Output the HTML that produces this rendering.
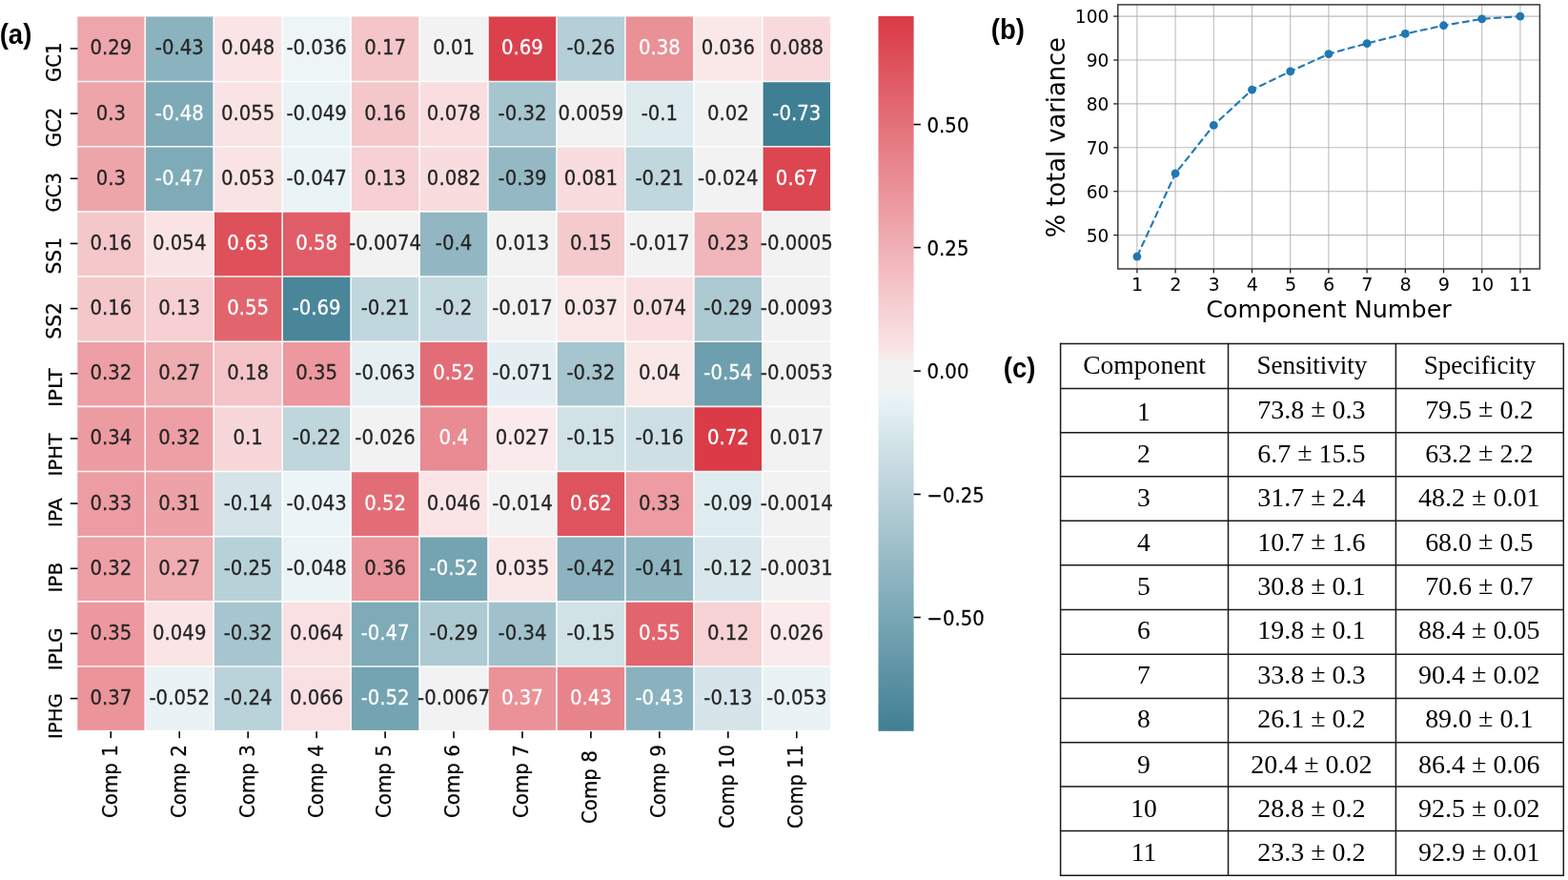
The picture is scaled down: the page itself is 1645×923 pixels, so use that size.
<!DOCTYPE html>
<html lang="en"><head><meta charset="utf-8"><title>PCA loadings, explained variance and classification table</title>
<style>
html,body{margin:0;padding:0;background:#fff;}
body{width:1645px;height:923px;overflow:hidden;}
svg{display:block;}
text{font-family:"DejaVu Sans","Liberation Sans",sans-serif;}
.ann{font-size:21.40px;text-anchor:middle;stroke-width:0.3px;}
.tk{font-size:21.40px;fill:#000;stroke:#000;stroke-width:0.25px;}
.w{fill:#fff;stroke:#fff;}
.d{fill:#262626;stroke:#262626;}
.lab{font-family:"Liberation Sans","DejaVu Sans",sans-serif;font-weight:bold;font-size:28.8px;fill:#000;}
.tb{font-family:"Liberation Serif","DejaVu Serif",serif;font-size:27.6px;fill:#000;text-anchor:middle;}
.bt{font-size:18.6px;fill:#000;}
.bl{font-size:25.4px;fill:#000;}
</style></head><body>
<svg width="1645" height="923" viewBox="0 0 1645 923" role="img" aria-label="PCA figure">
<rect x="0" y="0" width="1645" height="923" fill="#ffffff"/>
<g>
<rect x="81.30" y="17.45" width="71.25" height="68.37" fill="#eea6ac"/>
<rect x="152.25" y="17.45" width="72.25" height="68.37" fill="#8bb3bf"/>
<rect x="224.20" y="17.45" width="72.25" height="68.37" fill="#fae4e6"/>
<rect x="296.15" y="17.45" width="72.25" height="68.37" fill="#edf5f7"/>
<rect x="368.10" y="17.45" width="72.25" height="68.37" fill="#f4c6c9"/>
<rect x="440.05" y="17.45" width="72.25" height="68.37" fill="#f2f2f2"/>
<rect x="512.00" y="17.45" width="72.25" height="68.37" fill="#db414d"/>
<rect x="583.95" y="17.45" width="72.25" height="68.37" fill="#b4cfd7"/>
<rect x="655.90" y="17.45" width="72.25" height="68.37" fill="#ea9097"/>
<rect x="727.85" y="17.45" width="72.25" height="68.37" fill="#fae7e8"/>
<rect x="799.80" y="17.45" width="71.20" height="68.37" fill="#f8dadc"/>
<rect x="81.30" y="85.52" width="71.25" height="68.47" fill="#eea5aa"/>
<rect x="152.25" y="85.52" width="72.25" height="68.47" fill="#7eaab7"/>
<rect x="224.20" y="85.52" width="72.25" height="68.47" fill="#fae3e4"/>
<rect x="296.15" y="85.52" width="72.25" height="68.47" fill="#eaf3f6"/>
<rect x="368.10" y="85.52" width="72.25" height="68.47" fill="#f4c7cb"/>
<rect x="440.05" y="85.52" width="72.25" height="68.47" fill="#f9dddf"/>
<rect x="512.00" y="85.52" width="72.25" height="68.47" fill="#a6c5ce"/>
<rect x="583.95" y="85.52" width="72.25" height="68.47" fill="#f2f2f2"/>
<rect x="655.90" y="85.52" width="72.25" height="68.47" fill="#ddeaee"/>
<rect x="727.85" y="85.52" width="72.25" height="68.47" fill="#f2f2f2"/>
<rect x="799.80" y="85.52" width="71.20" height="68.47" fill="#3f7f93"/>
<rect x="81.30" y="153.69" width="71.25" height="68.47" fill="#eea5aa"/>
<rect x="152.25" y="153.69" width="72.25" height="68.47" fill="#7fabb8"/>
<rect x="224.20" y="153.69" width="72.25" height="68.47" fill="#fae3e4"/>
<rect x="296.15" y="153.69" width="72.25" height="68.47" fill="#eaf3f6"/>
<rect x="368.10" y="153.69" width="72.25" height="68.47" fill="#f6d0d3"/>
<rect x="440.05" y="153.69" width="72.25" height="68.47" fill="#f8dcde"/>
<rect x="512.00" y="153.69" width="72.25" height="68.47" fill="#94b9c4"/>
<rect x="583.95" y="153.69" width="72.25" height="68.47" fill="#f8dcde"/>
<rect x="655.90" y="153.69" width="72.25" height="68.47" fill="#c1d7de"/>
<rect x="727.85" y="153.69" width="72.25" height="68.47" fill="#f2f2f2"/>
<rect x="799.80" y="153.69" width="71.20" height="68.47" fill="#dc4651"/>
<rect x="81.30" y="221.86" width="71.25" height="68.47" fill="#f4c7cb"/>
<rect x="152.25" y="221.86" width="72.25" height="68.47" fill="#fae3e4"/>
<rect x="224.20" y="221.86" width="72.25" height="68.47" fill="#de505a"/>
<rect x="296.15" y="221.86" width="72.25" height="68.47" fill="#e05d67"/>
<rect x="368.10" y="221.86" width="72.25" height="68.47" fill="#f2f2f2"/>
<rect x="440.05" y="221.86" width="72.25" height="68.47" fill="#92b7c3"/>
<rect x="512.00" y="221.86" width="72.25" height="68.47" fill="#f2f2f2"/>
<rect x="583.95" y="221.86" width="72.25" height="68.47" fill="#f5cacd"/>
<rect x="655.90" y="221.86" width="72.25" height="68.47" fill="#f2f2f2"/>
<rect x="727.85" y="221.86" width="72.25" height="68.47" fill="#f1b6ba"/>
<rect x="799.80" y="221.86" width="71.20" height="68.47" fill="#f2f2f2"/>
<rect x="81.30" y="290.03" width="71.25" height="68.47" fill="#f4c7cb"/>
<rect x="152.25" y="290.03" width="72.25" height="68.47" fill="#f6d0d3"/>
<rect x="224.20" y="290.03" width="72.25" height="68.47" fill="#e2656e"/>
<rect x="296.15" y="290.03" width="72.25" height="68.47" fill="#498699"/>
<rect x="368.10" y="290.03" width="72.25" height="68.47" fill="#c1d7de"/>
<rect x="440.05" y="290.03" width="72.25" height="68.47" fill="#c4d9e0"/>
<rect x="512.00" y="290.03" width="72.25" height="68.47" fill="#f2f2f2"/>
<rect x="583.95" y="290.03" width="72.25" height="68.47" fill="#fae7e8"/>
<rect x="655.90" y="290.03" width="72.25" height="68.47" fill="#f9dfe1"/>
<rect x="727.85" y="290.03" width="72.25" height="68.47" fill="#adcad2"/>
<rect x="799.80" y="290.03" width="71.20" height="68.47" fill="#f2f2f2"/>
<rect x="81.30" y="358.20" width="71.25" height="68.47" fill="#ed9fa5"/>
<rect x="152.25" y="358.20" width="72.25" height="68.47" fill="#efacb1"/>
<rect x="224.20" y="358.20" width="72.25" height="68.47" fill="#f4c3c7"/>
<rect x="296.15" y="358.20" width="72.25" height="68.47" fill="#ec989e"/>
<rect x="368.10" y="358.20" width="72.25" height="68.47" fill="#e6f0f3"/>
<rect x="440.05" y="358.20" width="72.25" height="68.47" fill="#e36d76"/>
<rect x="512.00" y="358.20" width="72.25" height="68.47" fill="#e5eff3"/>
<rect x="583.95" y="358.20" width="72.25" height="68.47" fill="#a6c5ce"/>
<rect x="655.90" y="358.20" width="72.25" height="68.47" fill="#fae7e8"/>
<rect x="727.85" y="358.20" width="72.25" height="68.47" fill="#6e9fae"/>
<rect x="799.80" y="358.20" width="71.20" height="68.47" fill="#f2f2f2"/>
<rect x="81.30" y="426.37" width="71.25" height="68.47" fill="#ec9ba1"/>
<rect x="152.25" y="426.37" width="72.25" height="68.47" fill="#ed9fa5"/>
<rect x="224.20" y="426.37" width="72.25" height="68.47" fill="#f7d7d9"/>
<rect x="296.15" y="426.37" width="72.25" height="68.47" fill="#bfd6dd"/>
<rect x="368.10" y="426.37" width="72.25" height="68.47" fill="#f2f2f2"/>
<rect x="440.05" y="426.37" width="72.25" height="68.47" fill="#e98b92"/>
<rect x="512.00" y="426.37" width="72.25" height="68.47" fill="#fbeaeb"/>
<rect x="583.95" y="426.37" width="72.25" height="68.47" fill="#d1e2e7"/>
<rect x="655.90" y="426.37" width="72.25" height="68.47" fill="#cee0e5"/>
<rect x="727.85" y="426.37" width="72.25" height="68.47" fill="#da3b46"/>
<rect x="799.80" y="426.37" width="71.20" height="68.47" fill="#f2f2f2"/>
<rect x="81.30" y="494.54" width="71.25" height="68.47" fill="#ec9ca2"/>
<rect x="152.25" y="494.54" width="72.25" height="68.47" fill="#eda2a8"/>
<rect x="224.20" y="494.54" width="72.25" height="68.47" fill="#d4e4e9"/>
<rect x="296.15" y="494.54" width="72.25" height="68.47" fill="#ecf4f7"/>
<rect x="368.10" y="494.54" width="72.25" height="68.47" fill="#e36d76"/>
<rect x="440.05" y="494.54" width="72.25" height="68.47" fill="#fae4e6"/>
<rect x="512.00" y="494.54" width="72.25" height="68.47" fill="#f2f2f2"/>
<rect x="583.95" y="494.54" width="72.25" height="68.47" fill="#de535d"/>
<rect x="655.90" y="494.54" width="72.25" height="68.47" fill="#ec9ca2"/>
<rect x="727.85" y="494.54" width="72.25" height="68.47" fill="#dfecef"/>
<rect x="799.80" y="494.54" width="71.20" height="68.47" fill="#f2f2f2"/>
<rect x="81.30" y="562.71" width="71.25" height="68.47" fill="#ed9fa5"/>
<rect x="152.25" y="562.71" width="72.25" height="68.47" fill="#efacb1"/>
<rect x="224.20" y="562.71" width="72.25" height="68.47" fill="#b7d1d8"/>
<rect x="296.15" y="562.71" width="72.25" height="68.47" fill="#eaf3f6"/>
<rect x="368.10" y="562.71" width="72.25" height="68.47" fill="#eb959c"/>
<rect x="440.05" y="562.71" width="72.25" height="68.47" fill="#74a3b1"/>
<rect x="512.00" y="562.71" width="72.25" height="68.47" fill="#fae7e8"/>
<rect x="583.95" y="562.71" width="72.25" height="68.47" fill="#8cb3bf"/>
<rect x="655.90" y="562.71" width="72.25" height="68.47" fill="#8fb5c1"/>
<rect x="727.85" y="562.71" width="72.25" height="68.47" fill="#d8e7eb"/>
<rect x="799.80" y="562.71" width="71.20" height="68.47" fill="#f2f2f2"/>
<rect x="81.30" y="630.88" width="71.25" height="68.47" fill="#ec989e"/>
<rect x="152.25" y="630.88" width="72.25" height="68.47" fill="#fae4e6"/>
<rect x="224.20" y="630.88" width="72.25" height="68.47" fill="#a6c5ce"/>
<rect x="296.15" y="630.88" width="72.25" height="68.47" fill="#f9e0e2"/>
<rect x="368.10" y="630.88" width="72.25" height="68.47" fill="#7fabb8"/>
<rect x="440.05" y="630.88" width="72.25" height="68.47" fill="#adcad2"/>
<rect x="512.00" y="630.88" width="72.25" height="68.47" fill="#a0c1cb"/>
<rect x="583.95" y="630.88" width="72.25" height="68.47" fill="#d1e2e7"/>
<rect x="655.90" y="630.88" width="72.25" height="68.47" fill="#e2656e"/>
<rect x="727.85" y="630.88" width="72.25" height="68.47" fill="#f6d2d4"/>
<rect x="799.80" y="630.88" width="71.20" height="68.47" fill="#fbeaeb"/>
<rect x="81.30" y="699.05" width="71.25" height="66.85" fill="#eb949a"/>
<rect x="152.25" y="699.05" width="72.25" height="66.85" fill="#e9f2f5"/>
<rect x="224.20" y="699.05" width="72.25" height="66.85" fill="#bad2da"/>
<rect x="296.15" y="699.05" width="72.25" height="66.85" fill="#f9e0e2"/>
<rect x="368.10" y="699.05" width="72.25" height="66.85" fill="#74a3b1"/>
<rect x="440.05" y="699.05" width="72.25" height="66.85" fill="#f2f2f2"/>
<rect x="512.00" y="699.05" width="72.25" height="66.85" fill="#ea9298"/>
<rect x="583.95" y="699.05" width="72.25" height="66.85" fill="#e8848b"/>
<rect x="655.90" y="699.05" width="72.25" height="66.85" fill="#89b2be"/>
<rect x="727.85" y="699.05" width="72.25" height="66.85" fill="#d5e5ea"/>
<rect x="799.80" y="699.05" width="71.20" height="66.85" fill="#e9f2f5"/>
</g>
<g stroke="#ffffff" stroke-width="1.6" stroke-opacity="0.92">
<line x1="152.25" y1="17.45" x2="152.25" y2="765.90"/>
<line x1="224.20" y1="17.45" x2="224.20" y2="765.90"/>
<line x1="296.15" y1="17.45" x2="296.15" y2="765.90"/>
<line x1="368.10" y1="17.45" x2="368.10" y2="765.90"/>
<line x1="440.05" y1="17.45" x2="440.05" y2="765.90"/>
<line x1="512.00" y1="17.45" x2="512.00" y2="765.90"/>
<line x1="583.95" y1="17.45" x2="583.95" y2="765.90"/>
<line x1="655.90" y1="17.45" x2="655.90" y2="765.90"/>
<line x1="727.85" y1="17.45" x2="727.85" y2="765.90"/>
<line x1="799.80" y1="17.45" x2="799.80" y2="765.90"/>
<line x1="81.30" y1="85.52" x2="871.00" y2="85.52"/>
<line x1="81.30" y1="153.69" x2="871.00" y2="153.69"/>
<line x1="81.30" y1="221.86" x2="871.00" y2="221.86"/>
<line x1="81.30" y1="290.03" x2="871.00" y2="290.03"/>
<line x1="81.30" y1="358.20" x2="871.00" y2="358.20"/>
<line x1="81.30" y1="426.37" x2="871.00" y2="426.37"/>
<line x1="81.30" y1="494.54" x2="871.00" y2="494.54"/>
<line x1="81.30" y1="562.71" x2="871.00" y2="562.71"/>
<line x1="81.30" y1="630.88" x2="871.00" y2="630.88"/>
<line x1="81.30" y1="699.05" x2="871.00" y2="699.05"/>
</g>
<text class="ann d" transform="translate(116.28,57.34) scale(0.9200,1.0000)">0.29</text>
<text class="ann d" transform="translate(188.23,57.34) scale(0.9200,1.0000)">-0.43</text>
<text class="ann d" transform="translate(260.18,57.34) scale(0.9200,1.0000)">0.048</text>
<text class="ann d" transform="translate(332.12,57.34) scale(0.9200,1.0000)">-0.036</text>
<text class="ann d" transform="translate(404.08,57.34) scale(0.9200,1.0000)">0.17</text>
<text class="ann d" transform="translate(476.03,57.34) scale(0.9200,1.0000)">0.01</text>
<text class="ann w" transform="translate(547.98,57.34) scale(0.9200,1.0000)">0.69</text>
<text class="ann d" transform="translate(619.92,57.34) scale(0.9200,1.0000)">-0.26</text>
<text class="ann w" transform="translate(691.88,57.34) scale(0.9200,1.0000)">0.38</text>
<text class="ann d" transform="translate(763.82,57.34) scale(0.9200,1.0000)">0.036</text>
<text class="ann d" transform="translate(835.77,57.34) scale(0.9200,1.0000)">0.088</text>
<text class="ann d" transform="translate(116.28,125.50) scale(0.9200,1.0000)">0.3</text>
<text class="ann w" transform="translate(188.23,125.50) scale(0.9200,1.0000)">-0.48</text>
<text class="ann d" transform="translate(260.18,125.50) scale(0.9200,1.0000)">0.055</text>
<text class="ann d" transform="translate(332.12,125.50) scale(0.9200,1.0000)">-0.049</text>
<text class="ann d" transform="translate(404.08,125.50) scale(0.9200,1.0000)">0.16</text>
<text class="ann d" transform="translate(476.03,125.50) scale(0.9200,1.0000)">0.078</text>
<text class="ann d" transform="translate(547.98,125.50) scale(0.9200,1.0000)">-0.32</text>
<text class="ann d" transform="translate(619.92,125.50) scale(0.9200,1.0000)">0.0059</text>
<text class="ann d" transform="translate(691.88,125.50) scale(0.9200,1.0000)">-0.1</text>
<text class="ann d" transform="translate(763.82,125.50) scale(0.9200,1.0000)">0.02</text>
<text class="ann w" transform="translate(835.77,125.50) scale(0.9200,1.0000)">-0.73</text>
<text class="ann d" transform="translate(116.28,193.68) scale(0.9200,1.0000)">0.3</text>
<text class="ann w" transform="translate(188.23,193.68) scale(0.9200,1.0000)">-0.47</text>
<text class="ann d" transform="translate(260.18,193.68) scale(0.9200,1.0000)">0.053</text>
<text class="ann d" transform="translate(332.12,193.68) scale(0.9200,1.0000)">-0.047</text>
<text class="ann d" transform="translate(404.08,193.68) scale(0.9200,1.0000)">0.13</text>
<text class="ann d" transform="translate(476.03,193.68) scale(0.9200,1.0000)">0.082</text>
<text class="ann d" transform="translate(547.98,193.68) scale(0.9200,1.0000)">-0.39</text>
<text class="ann d" transform="translate(619.92,193.68) scale(0.9200,1.0000)">0.081</text>
<text class="ann d" transform="translate(691.88,193.68) scale(0.9200,1.0000)">-0.21</text>
<text class="ann d" transform="translate(763.82,193.68) scale(0.9200,1.0000)">-0.024</text>
<text class="ann w" transform="translate(835.77,193.68) scale(0.9200,1.0000)">0.67</text>
<text class="ann d" transform="translate(116.28,261.84) scale(0.9200,1.0000)">0.16</text>
<text class="ann d" transform="translate(188.23,261.84) scale(0.9200,1.0000)">0.054</text>
<text class="ann w" transform="translate(260.18,261.84) scale(0.9200,1.0000)">0.63</text>
<text class="ann w" transform="translate(332.12,261.84) scale(0.9200,1.0000)">0.58</text>
<text class="ann d" transform="translate(404.08,261.84) scale(0.9200,1.0000)">-0.0074</text>
<text class="ann d" transform="translate(476.03,261.84) scale(0.9200,1.0000)">-0.4</text>
<text class="ann d" transform="translate(547.98,261.84) scale(0.9200,1.0000)">0.013</text>
<text class="ann d" transform="translate(619.92,261.84) scale(0.9200,1.0000)">0.15</text>
<text class="ann d" transform="translate(691.88,261.84) scale(0.9200,1.0000)">-0.017</text>
<text class="ann d" transform="translate(763.82,261.84) scale(0.9200,1.0000)">0.23</text>
<text class="ann d" transform="translate(835.77,261.84) scale(0.9200,1.0000)">-0.0005</text>
<text class="ann d" transform="translate(116.28,330.01) scale(0.9200,1.0000)">0.16</text>
<text class="ann d" transform="translate(188.23,330.01) scale(0.9200,1.0000)">0.13</text>
<text class="ann w" transform="translate(260.18,330.01) scale(0.9200,1.0000)">0.55</text>
<text class="ann w" transform="translate(332.12,330.01) scale(0.9200,1.0000)">-0.69</text>
<text class="ann d" transform="translate(404.08,330.01) scale(0.9200,1.0000)">-0.21</text>
<text class="ann d" transform="translate(476.03,330.01) scale(0.9200,1.0000)">-0.2</text>
<text class="ann d" transform="translate(547.98,330.01) scale(0.9200,1.0000)">-0.017</text>
<text class="ann d" transform="translate(619.92,330.01) scale(0.9200,1.0000)">0.037</text>
<text class="ann d" transform="translate(691.88,330.01) scale(0.9200,1.0000)">0.074</text>
<text class="ann d" transform="translate(763.82,330.01) scale(0.9200,1.0000)">-0.29</text>
<text class="ann d" transform="translate(835.77,330.01) scale(0.9200,1.0000)">-0.0093</text>
<text class="ann d" transform="translate(116.28,398.19) scale(0.9200,1.0000)">0.32</text>
<text class="ann d" transform="translate(188.23,398.19) scale(0.9200,1.0000)">0.27</text>
<text class="ann d" transform="translate(260.18,398.19) scale(0.9200,1.0000)">0.18</text>
<text class="ann d" transform="translate(332.12,398.19) scale(0.9200,1.0000)">0.35</text>
<text class="ann d" transform="translate(404.08,398.19) scale(0.9200,1.0000)">-0.063</text>
<text class="ann w" transform="translate(476.03,398.19) scale(0.9200,1.0000)">0.52</text>
<text class="ann d" transform="translate(547.98,398.19) scale(0.9200,1.0000)">-0.071</text>
<text class="ann d" transform="translate(619.92,398.19) scale(0.9200,1.0000)">-0.32</text>
<text class="ann d" transform="translate(691.88,398.19) scale(0.9200,1.0000)">0.04</text>
<text class="ann w" transform="translate(763.82,398.19) scale(0.9200,1.0000)">-0.54</text>
<text class="ann d" transform="translate(835.77,398.19) scale(0.9200,1.0000)">-0.0053</text>
<text class="ann d" transform="translate(116.28,466.36) scale(0.9200,1.0000)">0.34</text>
<text class="ann d" transform="translate(188.23,466.36) scale(0.9200,1.0000)">0.32</text>
<text class="ann d" transform="translate(260.18,466.36) scale(0.9200,1.0000)">0.1</text>
<text class="ann d" transform="translate(332.12,466.36) scale(0.9200,1.0000)">-0.22</text>
<text class="ann d" transform="translate(404.08,466.36) scale(0.9200,1.0000)">-0.026</text>
<text class="ann w" transform="translate(476.03,466.36) scale(0.9200,1.0000)">0.4</text>
<text class="ann d" transform="translate(547.98,466.36) scale(0.9200,1.0000)">0.027</text>
<text class="ann d" transform="translate(619.92,466.36) scale(0.9200,1.0000)">-0.15</text>
<text class="ann d" transform="translate(691.88,466.36) scale(0.9200,1.0000)">-0.16</text>
<text class="ann w" transform="translate(763.82,466.36) scale(0.9200,1.0000)">0.72</text>
<text class="ann d" transform="translate(835.77,466.36) scale(0.9200,1.0000)">0.017</text>
<text class="ann d" transform="translate(116.28,534.52) scale(0.9200,1.0000)">0.33</text>
<text class="ann d" transform="translate(188.23,534.52) scale(0.9200,1.0000)">0.31</text>
<text class="ann d" transform="translate(260.18,534.52) scale(0.9200,1.0000)">-0.14</text>
<text class="ann d" transform="translate(332.12,534.52) scale(0.9200,1.0000)">-0.043</text>
<text class="ann w" transform="translate(404.08,534.52) scale(0.9200,1.0000)">0.52</text>
<text class="ann d" transform="translate(476.03,534.52) scale(0.9200,1.0000)">0.046</text>
<text class="ann d" transform="translate(547.98,534.52) scale(0.9200,1.0000)">-0.014</text>
<text class="ann w" transform="translate(619.92,534.52) scale(0.9200,1.0000)">0.62</text>
<text class="ann d" transform="translate(691.88,534.52) scale(0.9200,1.0000)">0.33</text>
<text class="ann d" transform="translate(763.82,534.52) scale(0.9200,1.0000)">-0.09</text>
<text class="ann d" transform="translate(835.77,534.52) scale(0.9200,1.0000)">-0.0014</text>
<text class="ann d" transform="translate(116.28,602.70) scale(0.9200,1.0000)">0.32</text>
<text class="ann d" transform="translate(188.23,602.70) scale(0.9200,1.0000)">0.27</text>
<text class="ann d" transform="translate(260.18,602.70) scale(0.9200,1.0000)">-0.25</text>
<text class="ann d" transform="translate(332.12,602.70) scale(0.9200,1.0000)">-0.048</text>
<text class="ann d" transform="translate(404.08,602.70) scale(0.9200,1.0000)">0.36</text>
<text class="ann w" transform="translate(476.03,602.70) scale(0.9200,1.0000)">-0.52</text>
<text class="ann d" transform="translate(547.98,602.70) scale(0.9200,1.0000)">0.035</text>
<text class="ann d" transform="translate(619.92,602.70) scale(0.9200,1.0000)">-0.42</text>
<text class="ann d" transform="translate(691.88,602.70) scale(0.9200,1.0000)">-0.41</text>
<text class="ann d" transform="translate(763.82,602.70) scale(0.9200,1.0000)">-0.12</text>
<text class="ann d" transform="translate(835.77,602.70) scale(0.9200,1.0000)">-0.0031</text>
<text class="ann d" transform="translate(116.28,670.87) scale(0.9200,1.0000)">0.35</text>
<text class="ann d" transform="translate(188.23,670.87) scale(0.9200,1.0000)">0.049</text>
<text class="ann d" transform="translate(260.18,670.87) scale(0.9200,1.0000)">-0.32</text>
<text class="ann d" transform="translate(332.12,670.87) scale(0.9200,1.0000)">0.064</text>
<text class="ann w" transform="translate(404.08,670.87) scale(0.9200,1.0000)">-0.47</text>
<text class="ann d" transform="translate(476.03,670.87) scale(0.9200,1.0000)">-0.29</text>
<text class="ann d" transform="translate(547.98,670.87) scale(0.9200,1.0000)">-0.34</text>
<text class="ann d" transform="translate(619.92,670.87) scale(0.9200,1.0000)">-0.15</text>
<text class="ann w" transform="translate(691.88,670.87) scale(0.9200,1.0000)">0.55</text>
<text class="ann d" transform="translate(763.82,670.87) scale(0.9200,1.0000)">0.12</text>
<text class="ann d" transform="translate(835.77,670.87) scale(0.9200,1.0000)">0.026</text>
<text class="ann d" transform="translate(116.28,739.03) scale(0.9200,1.0000)">0.37</text>
<text class="ann d" transform="translate(188.23,739.03) scale(0.9200,1.0000)">-0.052</text>
<text class="ann d" transform="translate(260.18,739.03) scale(0.9200,1.0000)">-0.24</text>
<text class="ann d" transform="translate(332.12,739.03) scale(0.9200,1.0000)">0.066</text>
<text class="ann w" transform="translate(404.08,739.03) scale(0.9200,1.0000)">-0.52</text>
<text class="ann d" transform="translate(476.03,739.03) scale(0.9200,1.0000)">-0.0067</text>
<text class="ann w" transform="translate(547.98,739.03) scale(0.9200,1.0000)">0.37</text>
<text class="ann w" transform="translate(619.92,739.03) scale(0.9200,1.0000)">0.43</text>
<text class="ann w" transform="translate(691.88,739.03) scale(0.9200,1.0000)">-0.43</text>
<text class="ann d" transform="translate(763.82,739.03) scale(0.9200,1.0000)">-0.13</text>
<text class="ann d" transform="translate(835.77,739.03) scale(0.9200,1.0000)">-0.053</text>
<g stroke="#000" stroke-width="1.6">
<line x1="73.70" y1="50.94" x2="81.50" y2="50.94"/>
<line x1="73.70" y1="119.10" x2="81.50" y2="119.10"/>
<line x1="73.70" y1="187.28" x2="81.50" y2="187.28"/>
<line x1="73.70" y1="255.44" x2="81.50" y2="255.44"/>
<line x1="73.70" y1="323.62" x2="81.50" y2="323.62"/>
<line x1="73.70" y1="391.79" x2="81.50" y2="391.79"/>
<line x1="73.70" y1="459.96" x2="81.50" y2="459.96"/>
<line x1="73.70" y1="528.12" x2="81.50" y2="528.12"/>
<line x1="73.70" y1="596.30" x2="81.50" y2="596.30"/>
<line x1="73.70" y1="664.47" x2="81.50" y2="664.47"/>
<line x1="73.70" y1="732.63" x2="81.50" y2="732.63"/>
<line x1="116.28" y1="767.20" x2="116.28" y2="774.20"/>
<line x1="188.23" y1="767.20" x2="188.23" y2="774.20"/>
<line x1="260.18" y1="767.20" x2="260.18" y2="774.20"/>
<line x1="332.12" y1="767.20" x2="332.12" y2="774.20"/>
<line x1="404.08" y1="767.20" x2="404.08" y2="774.20"/>
<line x1="476.03" y1="767.20" x2="476.03" y2="774.20"/>
<line x1="547.98" y1="767.20" x2="547.98" y2="774.20"/>
<line x1="619.92" y1="767.20" x2="619.92" y2="774.20"/>
<line x1="691.88" y1="767.20" x2="691.88" y2="774.20"/>
<line x1="763.82" y1="767.20" x2="763.82" y2="774.20"/>
<line x1="835.77" y1="767.20" x2="835.77" y2="774.20"/>
</g>
<text class="tk" transform="translate(64.40,44.54) rotate(-90) scale(0.9200,1.0000)" text-anchor="end">GC1</text>
<text class="tk" transform="translate(64.40,112.70) rotate(-90) scale(0.9200,1.0000)" text-anchor="end">GC2</text>
<text class="tk" transform="translate(64.40,181.08) rotate(-90) scale(0.9200,1.0000)" text-anchor="end">GC3</text>
<text class="tk" transform="translate(64.40,249.04) rotate(-90) scale(0.9430,1.0000)" text-anchor="end">SS1</text>
<text class="tk" transform="translate(64.40,317.22) rotate(-90) scale(0.9430,1.0000)" text-anchor="end">SS2</text>
<text class="tk" transform="translate(64.90,386.49) rotate(-90) scale(0.9807,0.9100)" text-anchor="end">IPLT</text>
<text class="tk" transform="translate(64.90,454.56) rotate(-90) scale(0.9292,0.9100)" text-anchor="end">IPHT</text>
<text class="tk" transform="translate(64.90,522.23) rotate(-90) scale(0.9568,0.9100)" text-anchor="end">IPA</text>
<text class="tk" transform="translate(64.90,589.90) rotate(-90) scale(0.9338,0.9100)" text-anchor="end">IPB</text>
<text class="tk" transform="translate(64.90,658.47) rotate(-90) scale(0.9384,0.9100)" text-anchor="end">IPLG</text>
<text class="tk" transform="translate(64.90,727.24) rotate(-90) scale(0.9200,0.9100)" text-anchor="end">IPHG</text>
<text class="tk" transform="translate(122.68,781.20) rotate(-90) scale(0.9274,1.0000)" text-anchor="end">Comp 1</text>
<text class="tk" transform="translate(194.63,781.20) rotate(-90) scale(0.9274,1.0000)" text-anchor="end">Comp 2</text>
<text class="tk" transform="translate(266.57,781.20) rotate(-90) scale(0.9274,1.0000)" text-anchor="end">Comp 3</text>
<text class="tk" transform="translate(338.52,781.20) rotate(-90) scale(0.9274,1.0000)" text-anchor="end">Comp 4</text>
<text class="tk" transform="translate(410.48,781.20) rotate(-90) scale(0.9274,1.0000)" text-anchor="end">Comp 5</text>
<text class="tk" transform="translate(482.43,781.20) rotate(-90) scale(0.9274,1.0000)" text-anchor="end">Comp 6</text>
<text class="tk" transform="translate(554.38,781.20) rotate(-90) scale(0.9274,1.0000)" text-anchor="end">Comp 7</text>
<text class="tk" transform="translate(626.32,787.20) rotate(-90) scale(0.9274,1.0000)" text-anchor="end">Comp 8</text>
<text class="tk" transform="translate(698.27,781.20) rotate(-90) scale(0.9274,1.0000)" text-anchor="end">Comp 9</text>
<text class="tk" transform="translate(770.22,781.20) rotate(-90) scale(0.9108,1.0000)" text-anchor="end">Comp 10</text>
<text class="tk" transform="translate(842.17,781.20) rotate(-90) scale(0.9108,1.0000)" text-anchor="end">Comp 11</text>
<defs><linearGradient id="cb" x1="0" y1="0" x2="0" y2="1"><stop offset="0.0000" stop-color="#da3b46"/><stop offset="0.0156" stop-color="#db3f4a"/><stop offset="0.0312" stop-color="#dc444f"/><stop offset="0.0469" stop-color="#dd4a55"/><stop offset="0.0625" stop-color="#de505a"/><stop offset="0.0781" stop-color="#df5560"/><stop offset="0.0938" stop-color="#e05b65"/><stop offset="0.1094" stop-color="#e1616b"/><stop offset="0.1250" stop-color="#e26770"/><stop offset="0.1406" stop-color="#e36d76"/><stop offset="0.1562" stop-color="#e4727b"/><stop offset="0.1719" stop-color="#e67880"/><stop offset="0.1875" stop-color="#e77e86"/><stop offset="0.2031" stop-color="#e8848b"/><stop offset="0.2188" stop-color="#e98991"/><stop offset="0.2344" stop-color="#ea8f96"/><stop offset="0.2500" stop-color="#eb959c"/><stop offset="0.2656" stop-color="#ec9ba1"/><stop offset="0.2812" stop-color="#eda0a6"/><stop offset="0.2969" stop-color="#eea6ac"/><stop offset="0.3125" stop-color="#efacb1"/><stop offset="0.3281" stop-color="#f0b2b7"/><stop offset="0.3438" stop-color="#f1b7bc"/><stop offset="0.3594" stop-color="#f3bdc1"/><stop offset="0.3750" stop-color="#f4c3c7"/><stop offset="0.3906" stop-color="#f5c9cc"/><stop offset="0.4062" stop-color="#f6cfd2"/><stop offset="0.4219" stop-color="#f7d4d7"/><stop offset="0.4375" stop-color="#f8dadc"/><stop offset="0.4531" stop-color="#f9e0e2"/><stop offset="0.4688" stop-color="#fae5e7"/><stop offset="0.4844" stop-color="#f2f2f2"/><stop offset="0.5000" stop-color="#f2f2f2"/><stop offset="0.5156" stop-color="#f2f2f2"/><stop offset="0.5312" stop-color="#eaf3f6"/><stop offset="0.5469" stop-color="#e5eff3"/><stop offset="0.5625" stop-color="#dfecef"/><stop offset="0.5781" stop-color="#d9e8ec"/><stop offset="0.5938" stop-color="#d4e4e9"/><stop offset="0.6094" stop-color="#cee0e5"/><stop offset="0.6250" stop-color="#c8dce2"/><stop offset="0.6406" stop-color="#c3d8df"/><stop offset="0.6562" stop-color="#bdd4db"/><stop offset="0.6719" stop-color="#b7d1d8"/><stop offset="0.6875" stop-color="#b1ccd5"/><stop offset="0.7031" stop-color="#acc9d2"/><stop offset="0.7188" stop-color="#a6c5ce"/><stop offset="0.7344" stop-color="#a0c1cb"/><stop offset="0.7500" stop-color="#9bbdc8"/><stop offset="0.7656" stop-color="#94b9c4"/><stop offset="0.7812" stop-color="#8fb5c1"/><stop offset="0.7969" stop-color="#89b2be"/><stop offset="0.8125" stop-color="#83adba"/><stop offset="0.8281" stop-color="#7eaab7"/><stop offset="0.8438" stop-color="#78a6b4"/><stop offset="0.8594" stop-color="#72a2b1"/><stop offset="0.8750" stop-color="#6d9ead"/><stop offset="0.8906" stop-color="#679aaa"/><stop offset="0.9062" stop-color="#6196a7"/><stop offset="0.9219" stop-color="#5b92a3"/><stop offset="0.9375" stop-color="#568fa0"/><stop offset="0.9531" stop-color="#508b9d"/><stop offset="0.9688" stop-color="#4a8799"/><stop offset="0.9844" stop-color="#448396"/><stop offset="1.0000" stop-color="#3f7f93"/></linearGradient></defs>
<rect x="921.50" y="17.00" width="37.10" height="749.80" fill="url(#cb)"/>
<g stroke="#000" stroke-width="1.6">
<line x1="958.60" y1="130.55" x2="965.80" y2="130.55"/>
<line x1="958.60" y1="259.65" x2="965.80" y2="259.65"/>
<line x1="958.60" y1="389.15" x2="965.80" y2="389.15"/>
<line x1="958.60" y1="518.45" x2="965.80" y2="518.45"/>
<line x1="958.60" y1="647.55" x2="965.80" y2="647.55"/>
</g>
<text class="tk" transform="translate(972.60,138.60) scale(0.9200,1.0000)">0.50</text>
<text class="tk" transform="translate(972.60,267.70) scale(0.9200,1.0000)">0.25</text>
<text class="tk" transform="translate(972.60,397.20) scale(0.9200,1.0000)">0.00</text>
<text class="tk" transform="translate(972.60,526.50) scale(0.9200,1.0000)">−0.25</text>
<text class="tk" transform="translate(972.60,655.60) scale(0.9200,1.0000)">−0.50</text>
<text class="lab" transform="translate(-0.30,45.90) scale(0.9550,1.0000)">(a)</text>
<text class="lab" transform="translate(1039.80,40.50) scale(0.9550,1.0000)">(b)</text>
<text class="lab" transform="translate(1052.80,395.80) scale(0.9550,1.0000)">(c)</text>
<rect x="1172.80" y="4.90" width="442.60" height="277.10" fill="#fff"/>
<g stroke="#b0b0b0" stroke-width="1.1" stroke-opacity="0.85">
<line x1="1192.90" y1="4.90" x2="1192.90" y2="282.00"/>
<line x1="1233.10" y1="4.90" x2="1233.10" y2="282.00"/>
<line x1="1273.30" y1="4.90" x2="1273.30" y2="282.00"/>
<line x1="1313.50" y1="4.90" x2="1313.50" y2="282.00"/>
<line x1="1353.70" y1="4.90" x2="1353.70" y2="282.00"/>
<line x1="1393.90" y1="4.90" x2="1393.90" y2="282.00"/>
<line x1="1434.10" y1="4.90" x2="1434.10" y2="282.00"/>
<line x1="1474.30" y1="4.90" x2="1474.30" y2="282.00"/>
<line x1="1514.50" y1="4.90" x2="1514.50" y2="282.00"/>
<line x1="1554.70" y1="4.90" x2="1554.70" y2="282.00"/>
<line x1="1594.90" y1="4.90" x2="1594.90" y2="282.00"/>
<line x1="1172.80" y1="246.60" x2="1615.40" y2="246.60"/>
<line x1="1172.80" y1="200.70" x2="1615.40" y2="200.70"/>
<line x1="1172.80" y1="154.80" x2="1615.40" y2="154.80"/>
<line x1="1172.80" y1="108.90" x2="1615.40" y2="108.90"/>
<line x1="1172.80" y1="63.00" x2="1615.40" y2="63.00"/>
<line x1="1172.80" y1="17.10" x2="1615.40" y2="17.10"/>
</g>
<polyline points="1192.90,269.09 1233.10,181.88 1273.30,131.39 1313.50,94.21 1353.70,74.93 1393.90,56.57 1434.10,45.56 1474.30,35.46 1514.50,26.74 1554.70,19.85 1594.90,17.10" fill="none" stroke="#1f77b4" stroke-width="2.1" stroke-dasharray="7.8,3.4"/>
<circle cx="1192.90" cy="269.09" r="4.4" fill="#1f77b4"/>
<circle cx="1233.10" cy="181.88" r="4.4" fill="#1f77b4"/>
<circle cx="1273.30" cy="131.39" r="4.4" fill="#1f77b4"/>
<circle cx="1313.50" cy="94.21" r="4.4" fill="#1f77b4"/>
<circle cx="1353.70" cy="74.93" r="4.4" fill="#1f77b4"/>
<circle cx="1393.90" cy="56.57" r="4.4" fill="#1f77b4"/>
<circle cx="1434.10" cy="45.56" r="4.4" fill="#1f77b4"/>
<circle cx="1474.30" cy="35.46" r="4.4" fill="#1f77b4"/>
<circle cx="1514.50" cy="26.74" r="4.4" fill="#1f77b4"/>
<circle cx="1554.70" cy="19.85" r="4.4" fill="#1f77b4"/>
<circle cx="1594.90" cy="17.10" r="4.4" fill="#1f77b4"/>
<rect x="1172.80" y="4.90" width="442.60" height="277.10" fill="none" stroke="#3a3a3a" stroke-width="1.5"/>
<g stroke="#222" stroke-width="1.3">
<line x1="1192.90" y1="282.00" x2="1192.90" y2="286.40"/>
<line x1="1233.10" y1="282.00" x2="1233.10" y2="286.40"/>
<line x1="1273.30" y1="282.00" x2="1273.30" y2="286.40"/>
<line x1="1313.50" y1="282.00" x2="1313.50" y2="286.40"/>
<line x1="1353.70" y1="282.00" x2="1353.70" y2="286.40"/>
<line x1="1393.90" y1="282.00" x2="1393.90" y2="286.40"/>
<line x1="1434.10" y1="282.00" x2="1434.10" y2="286.40"/>
<line x1="1474.30" y1="282.00" x2="1474.30" y2="286.40"/>
<line x1="1514.50" y1="282.00" x2="1514.50" y2="286.40"/>
<line x1="1554.70" y1="282.00" x2="1554.70" y2="286.40"/>
<line x1="1594.90" y1="282.00" x2="1594.90" y2="286.40"/>
<line x1="1168.20" y1="246.60" x2="1172.80" y2="246.60"/>
<line x1="1168.20" y1="200.70" x2="1172.80" y2="200.70"/>
<line x1="1168.20" y1="154.80" x2="1172.80" y2="154.80"/>
<line x1="1168.20" y1="108.90" x2="1172.80" y2="108.90"/>
<line x1="1168.20" y1="63.00" x2="1172.80" y2="63.00"/>
<line x1="1168.20" y1="17.10" x2="1172.80" y2="17.10"/>
</g>
<text class="bt" style="font-size:19.2px" text-anchor="middle" x="1193.20" y="304.90">1</text>
<text class="bt" style="font-size:19.2px" text-anchor="middle" x="1233.40" y="304.90">2</text>
<text class="bt" style="font-size:19.2px" text-anchor="middle" x="1273.60" y="304.90">3</text>
<text class="bt" style="font-size:19.2px" text-anchor="middle" x="1313.80" y="304.90">4</text>
<text class="bt" style="font-size:19.2px" text-anchor="middle" x="1354.00" y="304.90">5</text>
<text class="bt" style="font-size:19.2px" text-anchor="middle" x="1394.20" y="304.90">6</text>
<text class="bt" style="font-size:19.2px" text-anchor="middle" x="1434.40" y="304.90">7</text>
<text class="bt" style="font-size:19.2px" text-anchor="middle" x="1474.60" y="304.90">8</text>
<text class="bt" style="font-size:19.2px" text-anchor="middle" x="1514.80" y="304.90">9</text>
<text class="bt" style="font-size:19.2px" text-anchor="middle" x="1555.00" y="304.90">10</text>
<text class="bt" style="font-size:19.2px" text-anchor="middle" x="1595.20" y="304.90">11</text>
<text class="bt" text-anchor="end" x="1163.30" y="253.50">50</text>
<text class="bt" text-anchor="end" x="1163.30" y="207.60">60</text>
<text class="bt" text-anchor="end" x="1163.30" y="161.70">70</text>
<text class="bt" text-anchor="end" x="1163.30" y="115.80">80</text>
<text class="bt" text-anchor="end" x="1163.30" y="69.90">90</text>
<text class="bt" text-anchor="end" x="1163.30" y="24.00">100</text>
<text class="bl" text-anchor="middle" x="1394.00" y="332.90">Component Number</text>
<text class="bl" transform="translate(1117.00,144.20) rotate(-90) scale(0.9450,1.0000)" text-anchor="middle" style="font-size:27.20px">% total variance</text>
<g stroke="#1a1a1a" stroke-width="1.5" fill="none">
<line x1="1112.60" y1="359.80" x2="1112.60" y2="919.00"/>
<line x1="1288.50" y1="359.80" x2="1288.50" y2="919.00"/>
<line x1="1464.40" y1="359.80" x2="1464.40" y2="919.00"/>
<line x1="1640.30" y1="359.80" x2="1640.30" y2="919.00"/>
<line x1="1111.90" y1="360.50" x2="1641.00" y2="360.50"/>
<line x1="1111.90" y1="407.40" x2="1641.00" y2="407.40"/>
<line x1="1111.90" y1="453.70" x2="1641.00" y2="453.70"/>
<line x1="1111.90" y1="499.85" x2="1641.00" y2="499.85"/>
<line x1="1111.90" y1="546.30" x2="1641.00" y2="546.30"/>
<line x1="1111.90" y1="592.80" x2="1641.00" y2="592.80"/>
<line x1="1111.90" y1="639.60" x2="1641.00" y2="639.60"/>
<line x1="1111.90" y1="686.20" x2="1641.00" y2="686.20"/>
<line x1="1111.90" y1="732.50" x2="1641.00" y2="732.50"/>
<line x1="1111.90" y1="778.70" x2="1641.00" y2="778.70"/>
<line x1="1111.90" y1="824.90" x2="1641.00" y2="824.90"/>
<line x1="1111.90" y1="871.60" x2="1641.00" y2="871.60"/>
<line x1="1111.90" y1="918.30" x2="1641.00" y2="918.30"/>
</g>
<text class="tb" transform="translate(1200.55,392.10)">Component</text>
<text class="tb" transform="translate(1376.45,392.10) scale(0.9820,1.0000)">Sensitivity</text>
<text class="tb" transform="translate(1552.35,392.10) scale(0.9820,1.0000)">Specificity</text>
<text class="tb" transform="translate(1199.95,441.00)">1</text>
<text class="tb" transform="translate(1375.85,438.50) scale(1.0140,1.0000)">73.8 <tspan dy="-1.2">±</tspan><tspan dy="1.2"> 0.3</tspan></text>
<text class="tb" transform="translate(1551.75,438.50) scale(1.0140,1.0000)">79.5 <tspan dy="-1.2">±</tspan><tspan dy="1.2"> 0.2</tspan></text>
<text class="tb" transform="translate(1199.95,484.60)">2</text>
<text class="tb" transform="translate(1375.85,484.60) scale(1.0140,1.0000)">6.7 <tspan dy="-1.2">±</tspan><tspan dy="1.2"> 15.5</tspan></text>
<text class="tb" transform="translate(1551.75,484.60) scale(1.0140,1.0000)">63.2 <tspan dy="-1.2">±</tspan><tspan dy="1.2"> 2.2</tspan></text>
<text class="tb" transform="translate(1199.95,530.75)">3</text>
<text class="tb" transform="translate(1375.85,530.75) scale(1.0140,1.0000)">31.7 <tspan dy="-1.2">±</tspan><tspan dy="1.2"> 2.4</tspan></text>
<text class="tb" transform="translate(1551.75,530.75) scale(1.0140,1.0000)">48.2 <tspan dy="-1.2">±</tspan><tspan dy="1.2"> 0.01</tspan></text>
<text class="tb" transform="translate(1199.95,577.50)">4</text>
<text class="tb" transform="translate(1375.85,577.50) scale(1.0140,1.0000)">10.7 <tspan dy="-1.2">±</tspan><tspan dy="1.2"> 1.6</tspan></text>
<text class="tb" transform="translate(1551.75,577.50) scale(1.0140,1.0000)">68.0 <tspan dy="-1.2">±</tspan><tspan dy="1.2"> 0.5</tspan></text>
<text class="tb" transform="translate(1199.95,624.00)">5</text>
<text class="tb" transform="translate(1375.85,624.00) scale(1.0140,1.0000)">30.8 <tspan dy="-1.2">±</tspan><tspan dy="1.2"> 0.1</tspan></text>
<text class="tb" transform="translate(1551.75,624.00) scale(1.0140,1.0000)">70.6 <tspan dy="-1.2">±</tspan><tspan dy="1.2"> 0.7</tspan></text>
<text class="tb" transform="translate(1199.95,670.00)">6</text>
<text class="tb" transform="translate(1375.85,670.00) scale(1.0140,1.0000)">19.8 <tspan dy="-1.2">±</tspan><tspan dy="1.2"> 0.1</tspan></text>
<text class="tb" transform="translate(1551.75,670.00) scale(1.0140,1.0000)">88.4 <tspan dy="-1.2">±</tspan><tspan dy="1.2"> 0.05</tspan></text>
<text class="tb" transform="translate(1199.95,716.60)">7</text>
<text class="tb" transform="translate(1375.85,716.60) scale(1.0140,1.0000)">33.8 <tspan dy="-1.2">±</tspan><tspan dy="1.2"> 0.3</tspan></text>
<text class="tb" transform="translate(1551.75,716.60) scale(1.0140,1.0000)">90.4 <tspan dy="-1.2">±</tspan><tspan dy="1.2"> 0.02</tspan></text>
<text class="tb" transform="translate(1199.95,762.70)">8</text>
<text class="tb" transform="translate(1375.85,762.70) scale(1.0140,1.0000)">26.1 <tspan dy="-1.2">±</tspan><tspan dy="1.2"> 0.2</tspan></text>
<text class="tb" transform="translate(1551.75,762.70) scale(1.0140,1.0000)">89.0 <tspan dy="-1.2">±</tspan><tspan dy="1.2"> 0.1</tspan></text>
<text class="tb" transform="translate(1199.95,810.70)">9</text>
<text class="tb" transform="translate(1375.85,810.70) scale(1.0140,1.0000)">20.4 <tspan dy="-1.2">±</tspan><tspan dy="1.2"> 0.02</tspan></text>
<text class="tb" transform="translate(1551.75,810.70) scale(1.0140,1.0000)">86.4 <tspan dy="-1.2">±</tspan><tspan dy="1.2"> 0.06</tspan></text>
<text class="tb" transform="translate(1199.95,857.10)">10</text>
<text class="tb" transform="translate(1375.85,857.10) scale(1.0140,1.0000)">28.8 <tspan dy="-1.2">±</tspan><tspan dy="1.2"> 0.2</tspan></text>
<text class="tb" transform="translate(1551.75,857.10) scale(1.0140,1.0000)">92.5 <tspan dy="-1.2">±</tspan><tspan dy="1.2"> 0.02</tspan></text>
<text class="tb" transform="translate(1199.95,902.80)">11</text>
<text class="tb" transform="translate(1375.85,902.80) scale(1.0140,1.0000)">23.3 <tspan dy="-1.2">±</tspan><tspan dy="1.2"> 0.2</tspan></text>
<text class="tb" transform="translate(1551.75,902.80) scale(1.0140,1.0000)">92.9 <tspan dy="-1.2">±</tspan><tspan dy="1.2"> 0.01</tspan></text>
</svg></body></html>
